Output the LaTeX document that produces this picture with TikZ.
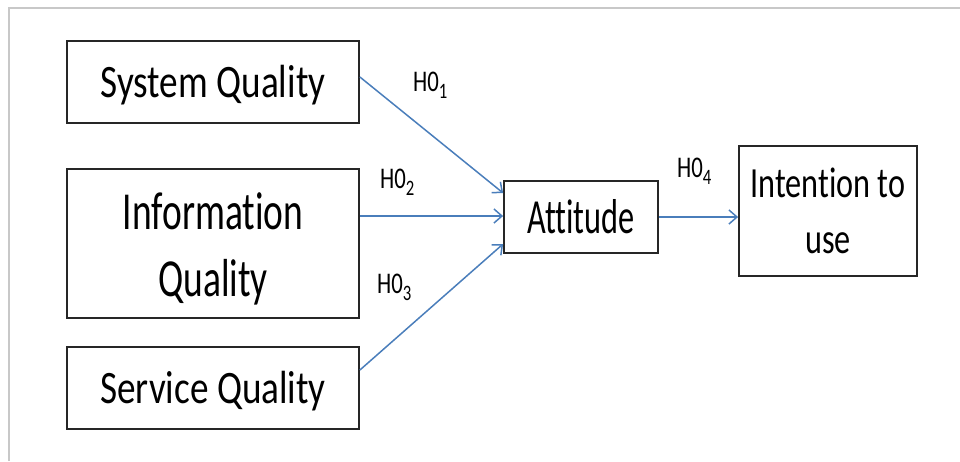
\documentclass[tikz,border=0pt]{standalone}
\usepackage{fontspec}
\setmainfont{Carlito}[Ligatures=NoCommon]
\newfontfamily\fA{Carlito}[FakeStretch=0.80,Ligatures=NoCommon]
\newfontfamily\fB{Carlito}[FakeStretch=0.70,Ligatures=NoCommon]
\newfontfamily\fC{Carlito}[FakeStretch=0.66,Ligatures=NoCommon]
\newfontfamily\fD{Carlito}[FakeStretch=0.75,Ligatures=NoCommon]
\newfontfamily\fH{Carlito}[FakeStretch=0.76,Ligatures=NoCommon]
\newcommand{\hlab}[1]{\fH\fontsize{30}{32}\selectfont H0\raisebox{-7pt}{\fontsize{22}{23}\selectfont #1}}
\usetikzlibrary{arrows.meta}
\definecolor{arrowblue}{HTML}{4A7EBB}
\definecolor{framegray}{HTML}{C8C8C8}
\tikzset{
  box/.style={draw=black!85, line width=1.8pt, rectangle, inner sep=0pt, align=center},
  hlabel/.style={inner sep=0pt, anchor=base west},
  conn/.style={draw=arrowblue, line width=1.5pt, -{Straight Barb[length=8pt,width=14pt,line width=1.5pt]}}
}
\begin{document}
\begin{tikzpicture}[x=1pt,y=-1pt]
\useasboundingbox (0,0) rectangle (960,461);
\draw[framegray, line width=1.8pt] (9,461) -- (9,8) -- (960,8);
\node[box,font=\fA\fontsize{46.5}{56}\selectfont,text height=30pt,text depth=0pt,
      minimum width=292pt,minimum height=82pt] (sq) at (213,82) {System Quality};
\node[box,font=\fB\fontsize{53.5}{67}\selectfont,text height=105pt,text depth=0pt,
      minimum width=292pt,minimum height=149pt] (iq) at (213,243.5) {Information\\Quality};
\node[box,font=\fA\fontsize{46.5}{56}\selectfont,text height=30pt,text depth=0pt,
      minimum width=292pt,minimum height=82pt] (sv) at (213,388) {Service Quality};
\node[box,font=\fC\fontsize{49}{56}\selectfont,text height=32pt,text depth=0pt,
      minimum width=154pt,minimum height=72pt] (att) at (581,217) {Attitude};
\node[box,font=\fD\fontsize{43}{56}\selectfont,text height=84pt,text depth=0pt,
      minimum width=178pt,minimum height=130pt] (int) at (828,211) {Intention to\\use};
\draw[conn] ([yshift=5pt]sq.east) -- ([yshift=24pt]att.west);
\draw[conn] ([yshift=27.5pt]iq.east) -- ([yshift=1pt]att.west);
\draw[conn] ([yshift=18pt]sv.east) -- ([yshift=-27pt]att.west);
\draw[conn] (att.east) -- (att.east -| int.west);
\node[hlabel] (h1) at (413,91) {\hlab{1}};
\node[hlabel] (h2) at (380,188) {\hlab{2}};
\node[hlabel] (h3) at (377,293) {\hlab{3}};
\node[hlabel] (h4) at (677,177) {\hlab{4}};
\end{tikzpicture}
\end{document}
